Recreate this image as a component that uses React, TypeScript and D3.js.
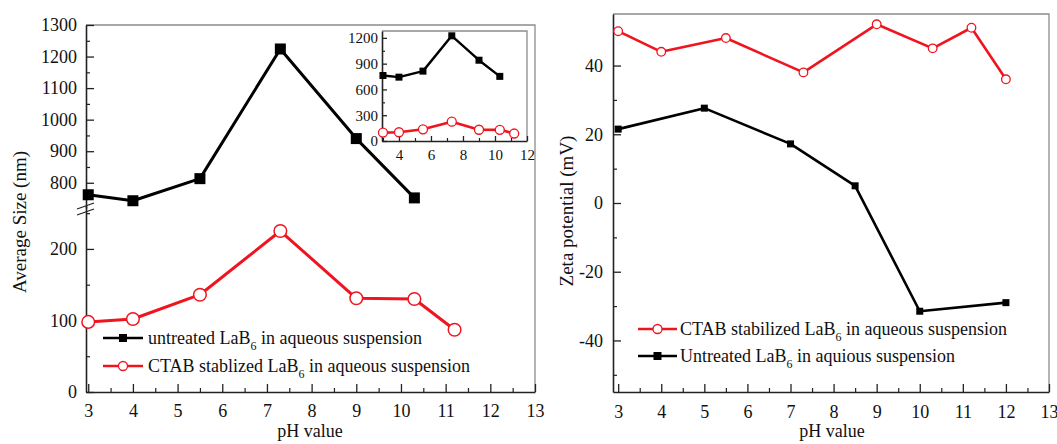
import React, { useEffect, useRef } from "react";
import * as d3 from "d3";

// left panel: average particle size vs pH
const phUntreated = [3, 4, 5.5, 7.3, 9, 10.3];
const sizeUntreated = [762, 743, 813, 1224, 940, 752];
const phCtab = [3, 4, 5.5, 7.3, 9, 10.3, 11.2];
const sizeCtab = [98, 102, 136, 225, 131, 130, 87];

// right panel: zeta potential vs pH
const phZetaCtab = [3, 4, 5.5, 7.3, 9, 10.3, 11.2, 12];
const zetaCtab = [50, 44, 48, 38, 52, 45, 51, 36];
const phZetaUntreated = [3, 5, 7, 8.5, 10, 12];
const zetaUntreated = [21.5, 27.6, 17.2, 5, -31.5, -29];

const xTicks = d3.range(3, 14);
const xMinorTicks = d3.range(3.5, 13, 1);
const sizeTicksLow = [0, 100, 200];
const sizeMinorLow = [50, 150, 250];
const sizeTicksHigh = [800, 900, 1000, 1100, 1200, 1300];
const sizeMinorHigh = [750, 850, 950, 1050, 1150, 1250];
const insetXTicks = [4, 6, 8, 10, 12];
const insetXMinor = [3, 5, 7, 9, 11];
const insetYTicks = [0, 300, 600, 900, 1200];
const insetYMinor = [150, 450, 750, 1050];
const zetaTicks = [-40, -20, 0, 20, 40];
const zetaMinor = [-50, -30, -10, 10, 30, 50];

const legendLeft = ["untreated LaB", "CTAB stablized LaB"];
const legendRight = ["CTAB stabilized LaB", "Untreated LaB"];
const legendRightTail = [" in aqueous suspension", " in aquious suspension"];

const FONT = "'Liberation Serif', 'Times New Roman', serif";
const RED = "#f0141e";
const INK = "#111";
const FRAME = "#8c8c8c";
const plain = d => String(d);

const App = () => {
  const svgRef = useRef<SVGSVGElement>(null);

  useEffect(() => {
    const svg = d3.select(svgRef.current);
    svg.selectAll("*").remove();

    const styleAxis = (g, size) => {
      g.attr("font-family", FONT);
      g.select(".domain").attr("stroke", "#222").attr("stroke-width", 1.6);
      g.selectAll(".tick line").attr("stroke", "#222").attr("stroke-width", 1.3);
      g.selectAll("text").attr("font-family", FONT).attr("font-size", size).attr("fill", INK);
    };

    const minorAxis = (g, axis) => {
      g.call(axis);
      g.select(".domain").remove();
      g.selectAll(".tick line").attr("stroke", "#222").attr("stroke-width", 1.2);
    };

    const frame = (x0, x1, y0, y1) => {
      svg.append("path")
        .attr("d", `M${x0},${y0}H${x1}V${y1}`)
        .attr("fill", "none")
        .attr("stroke", FRAME)
        .attr("stroke-width", 1.3);
    };

    const series = (xs, ys, x, y, color, width) => {
      const pts = xs.map((v, i) => [x(v), y(ys[i])] as [number, number]);
      svg.append("path")
        .attr("d", d3.line()(pts))
        .attr("fill", "none")
        .attr("stroke", color)
        .attr("stroke-width", width)
        .attr("stroke-linejoin", "round");
      return pts;
    };

    const squares = (pts, s) => {
      svg.append("g").selectAll("rect").data(pts).enter().append("rect")
        .attr("x", d => d[0] - s / 2).attr("y", d => d[1] - s / 2)
        .attr("width", s).attr("height", s).attr("fill", "#000");
    };

    const circles = (pts, r, sw) => {
      svg.append("g").selectAll("circle").data(pts).enter().append("circle")
        .attr("cx", d => d[0]).attr("cy", d => d[1]).attr("r", r)
        .attr("fill", "#fff").attr("stroke", RED).attr("stroke-width", sw);
    };

    const legendRow = (x0, x1, tx, y, color, marker, label, tail) => {
      svg.append("line").attr("x1", x0).attr("x2", x1).attr("y1", y).attr("y2", y)
        .attr("stroke", color).attr("stroke-width", 2.6);
      const cx = (x0 + x1) / 2;
      if (marker === "square") {
        svg.append("rect").attr("x", cx - 4).attr("y", y - 4).attr("width", 8).attr("height", 8).attr("fill", "#000");
      } else {
        svg.append("circle").attr("cx", cx).attr("cy", y).attr("r", 4.5)
          .attr("fill", "#fff").attr("stroke", RED).attr("stroke-width", 1.3);
      }
      const t = svg.append("text").attr("x", tx).attr("y", y + 6)
        .attr("font-family", FONT).attr("font-size", 18).attr("fill", INK);
      t.append("tspan").text(label);
      t.append("tspan").attr("font-size", 12).attr("dy", 6).text("6");
      t.append("tspan").attr("dy", -6).text(tail);
    };

    // ---------- left panel ----------
    const xL = d3.scaleLinear().domain([2.95, 13]).range([86, 535]);
    const yUp = d3.scaleLinear().domain([720, 1300]).range([208, 25]);
    const yLo = d3.scaleLinear().domain([0, 260]).range([392, 206]);
    const baseL = 392;

    frame(86, 535, 25, baseL);

    const gxL = svg.append("g").attr("transform", `translate(0,${baseL})`);
    gxL.call(d3.axisBottom(xL).tickValues(xTicks).tickFormat(plain).tickSize(-8).tickSizeOuter(0).tickPadding(12));
    styleAxis(gxL, 18);
    minorAxis(svg.append("g").attr("transform", `translate(0,${baseL})`),
      d3.axisBottom(xL).tickValues(xMinorTicks).tickSize(-4).tickFormat(() => ""));

    const gyLo = svg.append("g").attr("transform", "translate(86,0)");
    gyLo.call(d3.axisLeft(yLo).tickValues(sizeTicksLow).tickFormat(plain).tickSize(-8).tickSizeOuter(0).tickPadding(9));
    styleAxis(gyLo, 18);
    minorAxis(svg.append("g").attr("transform", "translate(86,0)"),
      d3.axisLeft(yLo).tickValues(sizeMinorLow).tickSize(-4).tickFormat(() => ""));

    const gyUp = svg.append("g").attr("transform", "translate(86,0)");
    gyUp.call(d3.axisLeft(yUp).tickValues(sizeTicksHigh).tickFormat(plain).tickSize(-8).tickSizeOuter(0).tickPadding(9));
    styleAxis(gyUp, 18);
    minorAxis(svg.append("g").attr("transform", "translate(86,0)"),
      d3.axisLeft(yUp).tickValues(sizeMinorHigh).tickSize(-4).tickFormat(() => ""));

    // axis break marks
    const by = yUp.range()[0];
    [0, 6].forEach(off => {
      svg.append("line")
        .attr("x1", 77).attr("y1", by + off + 1).attr("x2", 94).attr("y2", by + off - 5)
        .attr("stroke", "#222").attr("stroke-width", 1.3);
    });

    const ptsUn = series(phUntreated, sizeUntreated, xL, yUp, "#000", 3);
    const ptsCt = series(phCtab, sizeCtab, xL, yLo, RED, 3);
    squares(ptsUn, 11);
    circles(ptsCt, 6.3, 1.5);

    legendRow(103, 143, 148, 338, "#000", "square", legendLeft[0], " in aqueous suspension");
    legendRow(103, 143, 148, 366, RED, "circle", legendLeft[1], " in aqueous suspension");

    svg.append("text")
      .attr("transform", "translate(26,222) rotate(-90)")
      .attr("text-anchor", "middle")
      .attr("font-family", FONT).attr("font-size", 19).attr("fill", INK)
      .text("Average Size (nm)");
    svg.append("text")
      .attr("x", 310).attr("y", 437).attr("text-anchor", "middle")
      .attr("font-family", FONT).attr("font-size", 18).attr("fill", INK)
      .text("pH value");

    // inset
    const xI = d3.scaleLinear().domain([2.94, 12]).range([382, 527]);
    const yI = d3.scaleLinear().domain([0, 1280]).range([141, 31]);
    svg.append("rect").attr("x", 382).attr("y", 31).attr("width", 145).attr("height", 110).attr("fill", "#fff");
    frame(382, 527, 31, 141);

    const gxI = svg.append("g").attr("transform", "translate(0,141)");
    gxI.call(d3.axisBottom(xI).tickValues(insetXTicks).tickFormat(plain).tickSize(-5).tickSizeOuter(0).tickPadding(8));
    styleAxis(gxI, 15);
    minorAxis(svg.append("g").attr("transform", "translate(0,141)"),
      d3.axisBottom(xI).tickValues(insetXMinor).tickSize(-3).tickFormat(() => ""));
    const gyI = svg.append("g").attr("transform", "translate(382,0)");
    gyI.call(d3.axisLeft(yI).tickValues(insetYTicks).tickFormat(plain).tickSize(-5).tickSizeOuter(0).tickPadding(4));
    styleAxis(gyI, 15);
    minorAxis(svg.append("g").attr("transform", "translate(382,0)"),
      d3.axisLeft(yI).tickValues(insetYMinor).tickSize(-3).tickFormat(() => ""));

    const ptsIUn = series(phUntreated, sizeUntreated, xI, yI, "#000", 2.4);
    const ptsICt = series(phCtab, sizeCtab, xI, yI, RED, 2.6);
    squares(ptsIUn, 7);
    circles(ptsICt, 4.5, 1.3);

    // ---------- right panel ----------
    const xR = d3.scaleLinear().domain([2.88, 13]).range([613, 1049]);
    const yR = d3.scaleLinear().domain([-55, 55]).range([392, 14]);

    frame(613, 1049, 14, 392);

    const gxR = svg.append("g").attr("transform", "translate(0,392)");
    gxR.call(d3.axisBottom(xR).tickValues(xTicks).tickFormat(plain).tickSize(-8).tickSizeOuter(0).tickPadding(13));
    styleAxis(gxR, 18);
    minorAxis(svg.append("g").attr("transform", "translate(0,392)"),
      d3.axisBottom(xR).tickValues(xMinorTicks).tickSize(-4).tickFormat(() => ""));

    const gyR = svg.append("g").attr("transform", "translate(613,0)");
    gyR.call(d3.axisLeft(yR).tickValues(zetaTicks).tickFormat(plain).tickSize(-8).tickSizeOuter(0).tickPadding(10));
    styleAxis(gyR, 18);
    minorAxis(svg.append("g").attr("transform", "translate(613,0)"),
      d3.axisLeft(yR).tickValues(zetaMinor).tickSize(-4).tickFormat(() => ""));

    const ptsZCt = series(phZetaCtab, zetaCtab, xR, yR, RED, 2.6);
    const ptsZUn = series(phZetaUntreated, zetaUntreated, xR, yR, "#000", 2.6);
    circles(ptsZCt, 4.3, 1.3);
    squares(ptsZUn, 7);

    legendRow(638, 677, 680, 329, RED, "circle", legendRight[0], legendRightTail[0]);
    legendRow(638, 677, 680, 356, "#000", "square", legendRight[1], legendRightTail[1]);

    svg.append("text")
      .attr("transform", "translate(573,211) rotate(-90)")
      .attr("text-anchor", "middle")
      .attr("font-family", FONT).attr("font-size", 19).attr("fill", INK)
      .text("Zeta potential (mV)");
    svg.append("text")
      .attr("x", 832).attr("y", 437).attr("text-anchor", "middle")
      .attr("font-family", FONT).attr("font-size", 18).attr("fill", INK)
      .text("pH value");
  }, []);

  return (
    <svg
      ref={svgRef}
      width={1057}
      height={444}
      style={{ position: "absolute", left: 0, top: 0, background: "#fff" }}
    />
  );
};

export default App;
